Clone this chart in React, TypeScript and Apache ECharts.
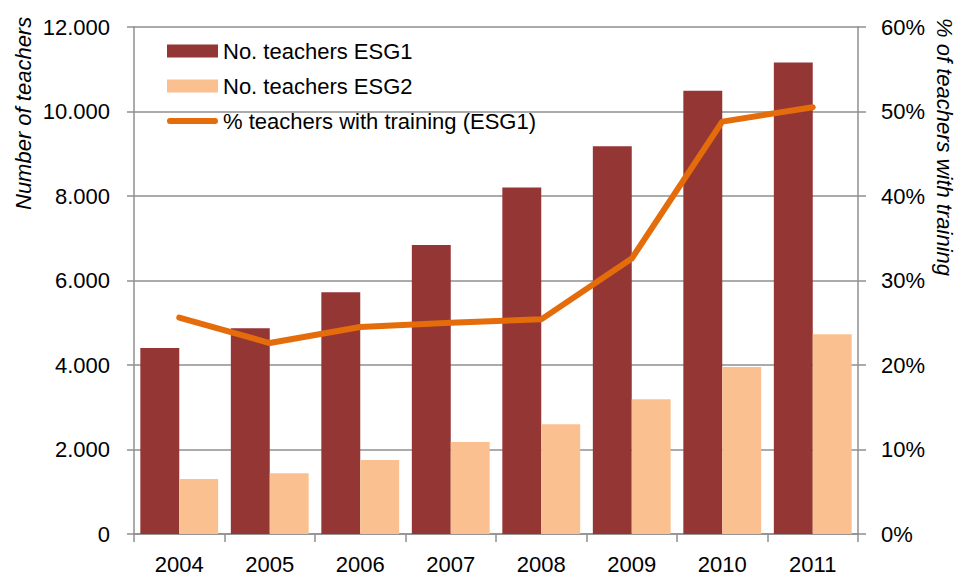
import React, { useEffect, useRef } from "react";
import * as echarts from "echarts";

const years = ["2004", "2005", "2006", "2007", "2008", "2009", "2010", "2011"];
const teachersESG1 = [4400, 4870, 5720, 6840, 8200, 9180, 10490, 11160];
const teachersESG2 = [1300, 1440, 1750, 2180, 2600, 3190, 3950, 4730];
const pctTraining = [25.6, 22.6, 24.5, 25.0, 25.4, 32.6, 48.8, 50.5];

const leftAxisName = "Number of teachers";
const rightAxisName = "% of teachers with training";
const seriesNames = ["No. teachers ESG1", "No. teachers ESG2", "% teachers with training (ESG1)"];

const FONT = "'Liberation Sans', Arial, sans-serif";
const AXIS_GRAY = "#8f8f8f";

export default function App() {
  const ref = useRef<HTMLDivElement>(null);
  useEffect(() => {
    if (!ref.current) return;
    document.body.style.margin = "0";
    const chart = echarts.init(ref.current, undefined, { renderer: "svg" });
    const fmtThousands = (v: number) =>
      v === 0 ? "0" : String(v).replace(/\B(?=(\d{3})+(?!\d))/g, ".");
    chart.setOption({
      animation: false,
      textStyle: { fontFamily: FONT },
      grid: { left: 134, right: 100, top: 27, bottom: 45, containLabel: false },
      legend: {
        orient: "vertical",
        left: 162,
        top: 35,
        itemWidth: 51,
        itemHeight: 13,
        itemGap: 13,
        symbolKeepAspect: true,
        textStyle: { fontSize: 22, color: "#000", fontFamily: FONT },
        data: [
          { name: seriesNames[0], icon: "rect" },
          { name: seriesNames[1], icon: "rect" },
          {
            name: seriesNames[2],
            icon: "path://M3,0 L48,0 A3,3 0 0 1 48,6 L3,6 A3,3 0 0 1 3,0 Z",
            itemStyle: { color: "#E46C0A" },
          },
        ],
      },
      xAxis: {
        type: "category",
        data: years,
        axisLine: { lineStyle: { color: AXIS_GRAY, width: 1.5 } },
        axisTick: { show: true, length: 8, lineStyle: { color: AXIS_GRAY, width: 1.5 } },
        axisLabel: { fontSize: 22, color: "#000", margin: 19, fontFamily: FONT },
      },
      yAxis: [
        {
          type: "value",
          min: 0,
          max: 12000,
          interval: 2000,
          axisLine: { show: true, lineStyle: { color: AXIS_GRAY, width: 1.5 } },
          axisTick: { show: true, length: 7, lineStyle: { color: AXIS_GRAY, width: 1.5 } },
          splitLine: { show: true, lineStyle: { color: AXIS_GRAY, width: 1.5 } },
          axisLabel: {
            fontSize: 22,
            color: "#000",
            margin: 24,
            fontFamily: FONT,
            formatter: fmtThousands,
          },
        },
        {
          type: "value",
          min: 0,
          max: 60,
          interval: 10,
          position: "right",
          axisLine: { show: true, lineStyle: { color: AXIS_GRAY, width: 1.5 } },
          axisTick: { show: true, length: 8, lineStyle: { color: AXIS_GRAY, width: 1.5 } },
          splitLine: { show: false },
          axisLabel: {
            fontSize: 22,
            color: "#000",
            margin: 23,
            fontFamily: FONT,
            formatter: "{value}%",
          },
        },
      ],
      series: [
        {
          name: seriesNames[0],
          type: "bar",
          data: teachersESG1,
          barGap: "0%",
          barCategoryGap: "14%",
          itemStyle: { color: "#943634" },
        },
        {
          name: seriesNames[1],
          type: "bar",
          data: teachersESG2,
          barGap: "0%",
          barCategoryGap: "14%",
          itemStyle: { color: "#FAC090" },
        },
        {
          name: seriesNames[2],
          type: "line",
          yAxisIndex: 1,
          data: pctTraining,
          symbol: "none",
          z: 5,
          lineStyle: { color: "#E46C0A", width: 6, cap: "round", join: "round" },
          itemStyle: { color: "#E46C0A" },
        },
      ],
      graphic: [
        {
          type: "text",
          x: 23,
          y: 210,
          rotation: Math.PI / 2,
          style: {
            text: leftAxisName,
            fontSize: 22,
            fontStyle: "italic",
            fontFamily: FONT,
            fill: "#000",
            align: "left",
            verticalAlign: "middle",
          },
        },
        {
          type: "text",
          x: 944,
          y: 18,
          rotation: -Math.PI / 2,
          style: {
            text: rightAxisName,
            fontSize: 22,
            fontStyle: "italic",
            fontFamily: FONT,
            fill: "#000",
            align: "left",
            verticalAlign: "middle",
          },
        },
      ],
    });
    return () => chart.dispose();
  }, []);
  return <div ref={ref} style={{ width: 958, height: 579 }} />;
}
